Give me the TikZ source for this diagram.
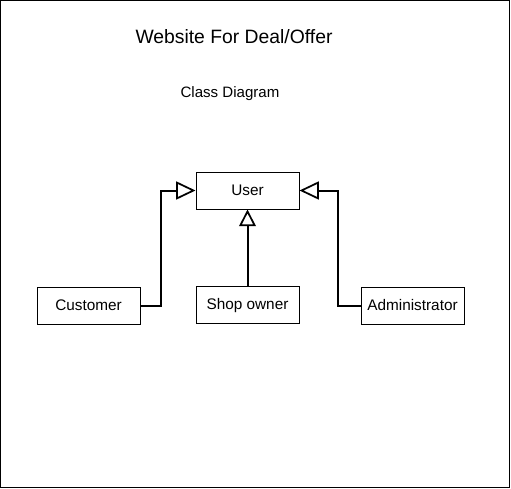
\documentclass[tikz,border=0pt]{standalone}
\usepackage{fontspec}
\setmainfont{Liberation Sans}
\usetikzlibrary{arrows.meta}
\tikzset{
  cls/.style={draw, line width=0.75pt, minimum width=77.25pt, minimum height=27.75pt, inner sep=0pt, text height=1.75ex, text depth=0.35ex, font=\fontsize{11.5}{13}\selectfont},
  inh/.style={line width=1.5pt, -{Triangle[open, length=14.5pt, width=13.5pt, line width=1.3pt]}},
  inhv/.style={line width=1.5pt, -{Triangle[open, length=12.5pt, width=12.5pt, line width=1.3pt]}},
}
\begin{document}
\begin{tikzpicture}[x=0.75pt, y=-0.75pt]
\useasboundingbox (0,0) rectangle (511,489);
\draw[line width=0.9pt] (0.6,0.6) rectangle (509.6,487.6);
\node[anchor=base, font=\fontsize{14.5}{17}\selectfont] (title) at (234,43.3) {Website For Deal/Offer};
\node[anchor=base, font=\fontsize{11.3}{13}\selectfont] (sub) at (230,97.3) {Class Diagram};
\node[cls] (user) at (247.5,190.5) {User};
\node[cls] (shop) at (247.5,305) {Shop owner};
\node[cls] (cust) at (88.5,305.5) {Customer};
\node[cls] (adm) at (412.5,305.5) {Administrator};
\draw[inh] (cust.east) -- ++(20,0) |- (user.west);
\draw[inh] (adm.west) -- ++(-23,0) |- (user.east);
\draw[inhv] (shop.north) -- (user.south);
\end{tikzpicture}
\end{document}
